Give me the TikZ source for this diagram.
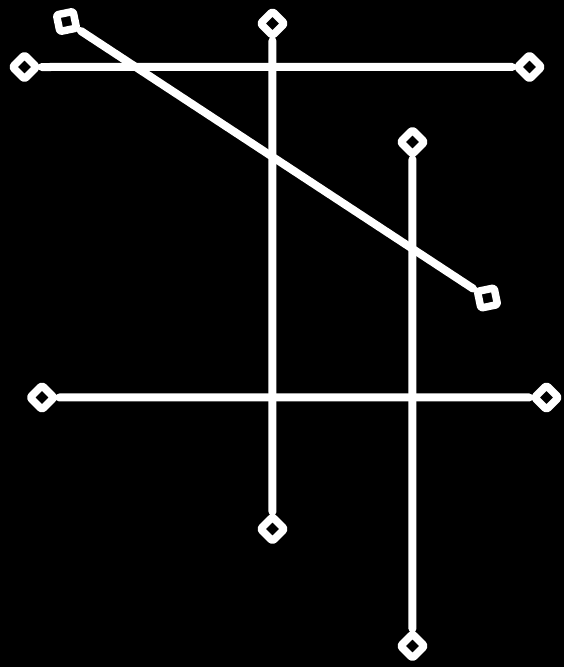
\documentclass[tikz,border=0pt]{standalone}
\usepackage{tikz}
\tikzset{
  every picture/.style={line join=round, line cap=round},
  stem/.style={draw=white, line width=8pt},
  tip/.style={rectangle, draw=white, fill=black, line width=7.5pt, rounded corners=2pt,
    minimum size=17pt, inner sep=0pt},
}

\begin{document}
\begin{tikzpicture}[x=1pt,y=-1pt]
\fill[black] (0,0) rectangle (564,667);
\useasboundingbox (0,0) rectangle (564,667);
% horizontal bars
\node[tip, rotate=45] (h1l) at (24.5,67) {};
\node[tip, rotate=45] (h1r) at (529.5,67) {};
\node[tip, rotate=45] (h2l) at (42,397.5) {};
\node[tip, rotate=45] (h2r) at (546.5,397.5) {};
% vertical bars
\node[tip, rotate=45] (v1t) at (272.5,23.5) {};
\node[tip, rotate=45] (v1b) at (272.5,529) {};
\node[tip, rotate=45] (v2t) at (412.5,142) {};
\node[tip, rotate=45] (v2b) at (412.5,646) {};
% slanted bar
\node[tip, rotate=11.7] (dt) at (66.5,21.5) {};
\node[tip, rotate=11.7] (db) at (487.5,298) {};
\draw[stem] (h1l) -- (h1r);
\draw[stem] (h2l) -- (h2r);
\draw[stem] (v1t) -- (v1b);
\draw[stem] (v2t) -- (v2b);
\draw[stem] (dt) -- (db);
\end{tikzpicture}
\end{document}
